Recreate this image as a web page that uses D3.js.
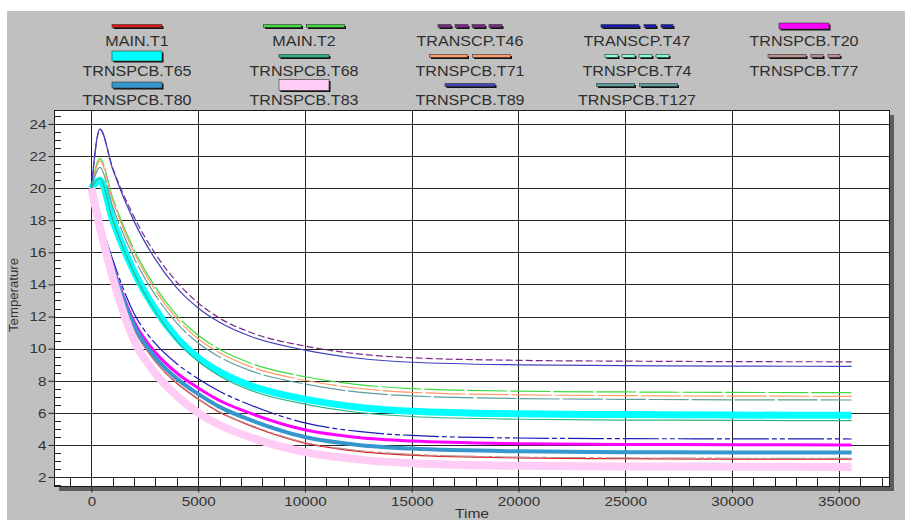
<!DOCTYPE html>
<html>
<head>
<meta charset="utf-8">
<script src="https://cdnjs.cloudflare.com/ajax/libs/d3/7.8.5/d3.min.js"></script>
<style>
  html, body { margin: 0; padding: 0; background: #ffffff; }
  svg { display: block; font-family: "Liberation Sans", Arial, sans-serif; }
</style>
</head>
<body>
<svg id="chart" width="910" height="520"></svg>
<script>
// sample times (s)
const times = [0, 400, 1000, 2000, 3000, 4000, 5000, 6000, 7500, 10000, 12500, 15000, 20000, 25000, 30000, 35600];

const seriesNames = [
  "MAIN.T1", "MAIN.T2", "TRANSCP.T46", "TRANSCP.T47", "TRNSPCB.T20",
  "TRNSPCB.T65", "TRNSPCB.T68", "TRNSPCB.T71", "TRNSPCB.T74", "TRNSPCB.T77",
  "TRNSPCB.T80", "TRNSPCB.T83", "TRNSPCB.T89", "TRNSPCB.T127"
];

// temperature at each sample time
const mainT1   = [20, 17.80, 14.93, 11.22, 9.19, 7.84, 6.86, 6.03, 5.17, 4.11, 3.60, 3.36, 3.19, 3.14, 3.12, 3.11];
const mainT2   = [20, 21.85, 19.37, 16.16, 13.83, 12.07, 10.83, 9.96, 9.07, 8.25, 7.76, 7.51, 7.35, 7.30, 7.27, 7.26];
const transT46 = [20, 23.65, 21.25, 18.20, 15.90, 14.15, 12.85, 11.90, 10.99, 10.16, 9.67, 9.43, 9.27, 9.22, 9.19, 9.18];
const transT47 = [20, 18.05, 15.55, 12.19, 10.31, 9.06, 8.12, 7.34, 6.46, 5.37, 4.84, 4.59, 4.43, 4.39, 4.38, 4.37];
const pcbT20   = [20, 17.92, 15.20, 11.68, 9.76, 8.48, 7.55, 6.77, 5.95, 4.94, 4.46, 4.24, 4.08, 4.03, 4.01, 4.00];
const pcbT65   = [20, 20.50, 18.01, 14.79, 12.44, 10.68, 9.44, 8.56, 7.67, 6.85, 6.35, 6.10, 5.94, 5.89, 5.86, 5.85];
const pcbT68   = [20, 20.60, 18.03, 14.71, 12.30, 10.49, 9.21, 8.30, 7.38, 6.54, 6.02, 5.77, 5.60, 5.55, 5.53, 5.51];
const pcbT71   = [20, 21.70, 19.21, 15.98, 13.63, 11.87, 10.62, 9.74, 8.85, 8.03, 7.53, 7.28, 7.12, 7.07, 7.04, 7.03];
const pcbT74   = [20, 20.50, 17.99, 14.75, 12.39, 10.62, 9.36, 8.48, 7.58, 6.75, 6.25, 6.00, 5.84, 5.79, 5.76, 5.75];
const pcbT77   = [20, 17.81, 14.95, 11.24, 9.22, 7.88, 6.90, 6.07, 5.21, 4.15, 3.65, 3.41, 3.24, 3.19, 3.17, 3.16];
const pcbT80   = [20, 17.86, 15.06, 11.43, 9.45, 8.13, 7.18, 6.37, 5.53, 4.49, 4.00, 3.77, 3.60, 3.55, 3.53, 3.52];
const pcbT83   = [20, 17.57, 14.44, 10.53, 8.45, 7.06, 6.00, 5.24, 4.45, 3.55, 3.10, 2.86, 2.70, 2.66, 2.64, 2.63];
const pcbT89   = [20, 23.70, 21.18, 17.93, 15.56, 13.78, 12.53, 11.64, 10.74, 9.91, 9.40, 9.15, 8.99, 8.94, 8.91, 8.90];
const pcbT127  = [20, 21.30, 18.84, 15.65, 13.33, 11.59, 10.35, 9.48, 8.60, 7.79, 7.29, 7.05, 6.89, 6.84, 6.81, 6.80];

const seriesValues = [mainT1, mainT2, transT46, transT47, pcbT20, pcbT65, pcbT68,
  pcbT71, pcbT74, pcbT77, pcbT80, pcbT83, pcbT89, pcbT127];

const yTicks = [2, 4, 6, 8, 10, 12, 14, 16, 18, 20, 22, 24];
const xTicks = [0, 5000, 10000, 15000, 20000, 25000, 30000, 35000];

// line styles: plot dash, legend segments
const DASHED = { plot: "40,3", legend: [38, 5, 38] };
const DOTTED = { plot: "7,3", legend: [13, 4, 13, 4, 13, 4, 13] };
const DASHDOT = { plot: "36,3,5,3,5,3", legend: [38, 5, 12, 5, 12] };
const SOLID = { plot: null, legend: [50] };

const styles = {
  "MAIN.T1":      { color: "#dd1515", width: 1.2, dash: SOLID, h: 3 },
  "MAIN.T2":      { color: "#3fdc3f", width: 1.2, dash: DASHED, h: 3 },
  "TRANSCP.T46":  { color: "#7a2a86", width: 1.2, dash: DOTTED, h: 3 },
  "TRANSCP.T47":  { color: "#1a1ab8", width: 1.2, dash: DASHDOT, h: 3 },
  "TRNSPCB.T20":  { color: "#ff00ff", width: 3, dash: SOLID, h: 6 },
  "TRNSPCB.T65":  { color: "#00ffff", width: 7, dash: SOLID, h: 10 },
  "TRNSPCB.T68":  { color: "#2fb386", width: 1.2, dash: SOLID, h: 3 },
  "TRNSPCB.T71":  { color: "#ff9a66", width: 1.2, dash: DASHED, h: 3 },
  "TRNSPCB.T74":  { color: "#7fffd0", width: 1.2, dash: DOTTED, h: 3 },
  "TRNSPCB.T77":  { color: "#bc8f8f", width: 1.2, dash: DASHDOT, h: 3 },
  "TRNSPCB.T80":  { color: "#3597cc", width: 4, dash: SOLID, h: 6 },
  "TRNSPCB.T83":  { color: "#ffccf5", width: 8, dash: SOLID, h: 11 },
  "TRNSPCB.T89":  { color: "#4343c0", width: 1.2, dash: SOLID, h: 3 },
  "TRNSPCB.T127": { color: "#5f9ea0", width: 1.2, dash: DASHED, h: 3 }
};

// T74 sits under the thick cyan trace, so paint it first
const drawOrder = [8, 0, 1, 2, 3, 4, 5, 6, 7, 9, 10, 11, 12, 13];

const svg = d3.select("#chart");
const plotL = 54, plotR = 889, plotT = 110, plotB = 486;

const x = d3.scaleLinear().domain([-1750, 37350]).range([plotL, plotR]);
const y = d3.scaleLinear().domain([1.44, 24.87]).range([plotB, plotT]);

// the original's font is rendered a little wider than Liberation Sans
function wideText(sel, cx, cy, size, sx, anchor) {
  return sel.append("text")
    .attr("transform", `translate(${cx},${cy}) scale(${sx},1)`)
    .attr("text-anchor", anchor || "middle")
    .attr("font-size", size)
    .attr("fill", "#2e2e2e");
}

// gray panel
svg.append("rect").attr("x", 7).attr("y", 11).attr("width", 898).attr("height", 509).attr("fill", "#c0c0c0");

// legend
const colX = [137, 304, 470, 637, 804];
const rowY = [26, 56, 85];
const legend = svg.append("g");
seriesNames.forEach((name, i) => {
  const st = styles[name];
  const cx = colX[i % 5], cy = rowY[Math.floor(i / 5)];
  const segs = st.dash.legend;
  const total = d3.sum(segs);
  let pos = cx - total / 2;
  const g = legend.append("g");
  segs.forEach((len, k) => {
    if (k % 2 === 0) {
      g.append("rect").attr("x", pos + 1.5).attr("y", cy - st.h / 2 + 1.5)
        .attr("width", len).attr("height", st.h).attr("fill", "#111");
      g.append("rect").attr("x", pos).attr("y", cy - st.h / 2)
        .attr("width", len).attr("height", st.h).attr("fill", st.color)
        .attr("stroke", "#333").attr("stroke-width", 0.6);
    }
    pos += len;
  });
  wideText(legend, cx, cy + 19.5, 14, 1.15).text(name);
});

// plot shadow and area
svg.append("rect").attr("x", plotL + 5).attr("y", plotT + 5)
  .attr("width", plotR - plotL).attr("height", plotB - plotT).attr("fill", "#5e5e5e");
svg.append("rect").attr("x", plotL).attr("y", plotT)
  .attr("width", plotR - plotL).attr("height", plotB - plotT).attr("fill", "#ffffff");

// grid
const grid = svg.append("g").attr("stroke", "#262626").attr("stroke-width", 1);
yTicks.forEach(v => {
  const yy = Math.round(y(v)) + 0.5;
  grid.append("line").attr("x1", plotL).attr("x2", plotR).attr("y1", yy).attr("y2", yy);
});
xTicks.forEach(v => {
  const xx = Math.round(x(v)) + 0.5;
  grid.append("line").attr("x1", xx).attr("x2", xx).attr("y1", plotT).attr("y2", plotB);
});

// minor ticks
const minor = svg.append("g").attr("stroke", "#222").attr("stroke-width", 1);
d3.range(1.5, 24.9, 0.5).forEach(v => {
  const yy = Math.round(y(v)) + 0.5;
  minor.append("line").attr("x1", plotL).attr("x2", plotL + 7).attr("y1", yy).attr("y2", yy);
});
d3.range(-1000, 37001, 1000).forEach(v => {
  const xx = Math.round(x(v)) + 0.5;
  minor.append("line").attr("x1", xx).attr("x2", xx).attr("y1", plotB - 8).attr("y2", plotB);
});

// series lines
svg.append("clipPath").attr("id", "clip").append("rect")
  .attr("x", plotL).attr("y", plotT).attr("width", plotR - plotL).attr("height", plotB - plotT);

const line = d3.line()
  .x(d => x(d[0]))
  .y(d => y(d[1]))
  .curve(d3.curveMonotoneX);

const lines = svg.append("g").attr("clip-path", "url(#clip)");
drawOrder.forEach(i => {
  const st = styles[seriesNames[i]];
  const pts = times.map((t, k) => [t, seriesValues[i][k]]);
  lines.append("path")
    .attr("d", line(pts))
    .attr("fill", "none")
    .attr("stroke", st.color)
    .attr("stroke-width", st.width)
    .attr("stroke-dasharray", st.dash.plot)
    .attr("stroke-linejoin", "round");
});

// frame
svg.append("rect").attr("x", plotL + 0.5).attr("y", plotT + 0.5)
  .attr("width", plotR - plotL).attr("height", plotB - plotT)
  .attr("fill", "none").attr("stroke", "#1a1a1a").attr("stroke-width", 1);

// axes
const yAxis = svg.append("g").attr("transform", `translate(${plotL + 0.5},0)`)
  .call(d3.axisLeft(y).tickValues(yTicks).tickSize(6).tickPadding(2).tickFormat(d3.format("d")));
const xAxis = svg.append("g").attr("transform", `translate(0,${plotB + 0.5})`)
  .call(d3.axisBottom(x).tickValues(xTicks).tickSize(6).tickPadding(4).tickFormat(d3.format("d")));
[yAxis, xAxis].forEach(a => {
  a.select(".domain").remove();
  a.selectAll(".tick line").attr("stroke", "#222");
  a.selectAll(".tick text").each(function () {
    const t = d3.select(this);
    const tx = +t.attr("x") || 0, ty = +t.attr("y") || 0;
    t.attr("x", 0).attr("y", 0)
      .attr("transform", `translate(${tx},${ty}) scale(1.13,1)`)
      .attr("font-size", 13.5).attr("fill", "#333")
      .attr("font-family", "Liberation Sans, Arial, sans-serif");
  });
});

svg.append("text").attr("transform", "translate(18,295) rotate(-90) scale(1.1,1)")
  .attr("text-anchor", "middle").attr("font-size", 12).attr("fill", "#333")
  .text("Temperature");
wideText(svg, 472, 518, 13, 1.2).attr("fill", "#333").text("Time");
</script>
</body>
</html>
